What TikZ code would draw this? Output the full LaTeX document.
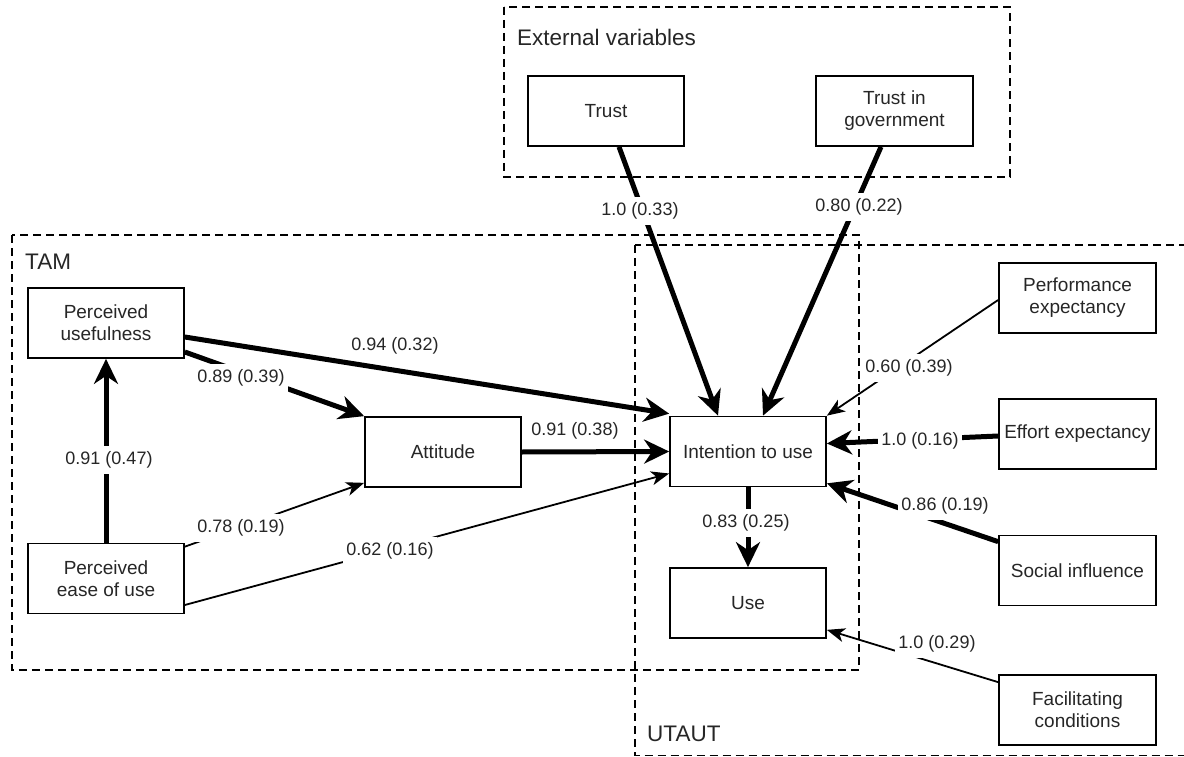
\documentclass[tikz,border=0pt]{standalone}
\usepackage{fontspec}
\setmainfont{Liberation Sans}
\usetikzlibrary{arrows.meta,calc}
\tikzset{
 box/.style={draw, line width=1.7pt, minimum width=156pt, minimum height=70pt, inner sep=2pt, align=center, font=\fontsize{19}{22}\selectfont, text=black!85},
 grp/.style={draw, dash pattern=on 8pt off 5pt, line width=1.6pt},
 ttl/.style={anchor=west, font=\fontsize{22.5}{26}\selectfont, text=black!85, inner sep=0pt},
 lbl/.style={fill=white, inner xsep=3pt, inner ysep=6pt, font=\fontsize{18}{20}\selectfont, text=black!85},
 thk/.style={line width=5pt, -{Stealth[length=25pt,width=24pt,inset=8pt]}},
 thn/.style={line width=1.8pt, -{Stealth[length=18pt,width=14pt,inset=5pt]}},
}
\begin{document}
\begin{tikzpicture}[x=1pt,y=-1pt]
\useasboundingbox (0,0) rectangle (1184,757);
\clip (0,0) rectangle (1184,757);
% groups
\draw[grp] (504,7) rectangle (1010,177);
\draw[grp] (12,235) rectangle (859,670);
\draw[grp] (635,245) rectangle (1200,755.5);
\node[ttl] (tExt) at (517,37) {External variables};
\node[ttl] (tTam) at (25,262) {TAM};
\node[ttl] (tUta) at (647,734) {UTAUT};
% boxes
\node[box] (trust) at (606,111) {Trust};
\node[box, minimum width=157pt] (tig) at (894.5,111) {Trust in\\government};
\node[box] (pu) at (106,323) {Perceived\\usefulness};
\node[box] (peou) at (106,578.5) {Perceived\\ease of use};
\node[box] (att) at (443,452) {Attitude};
\node[box] (int) at (748,451.5) {Intention to use};
\node[box] (use) at (748,603) {Use};
\node[box, minimum width=157pt] (pe) at (1077.5,298) {Performance\\expectancy};
\node[box, minimum width=157pt] (ee) at (1077.5,434) {Effort expectancy};
\node[box, minimum width=157pt] (si) at (1077.5,570.5) {Social influence};
\node[box, minimum width=157pt] (fc) at (1077.5,710) {Facilitating\\conditions};
% connectors
\draw[thk] ([xshift=13pt]trust.south) -- ([xshift=-30pt]int.north);
\draw[thk] ([xshift=-13.5pt]tig.south) -- ([xshift=15pt]int.north);
\draw[thk] ([yshift=-14pt]pu.east) -- ([yshift=2pt]int.north west);
\draw[thk] ([yshift=-29pt]pu.east) -- (att.north west);
\draw[thk] (peou.north) -- (pu.south);
\draw[thn] ([yshift=-4pt]peou.north east) -- ([yshift=5pt]att.south west);
\draw[thn] ([yshift=-26.5pt]peou.east) -- ([yshift=-22pt]int.west);
\draw[thk] (att.east) -- (int.west);
\draw[thk] (int.south) -- (use.north);
\draw[thn] ([yshift=-2pt]pe.west) -- (int.north east);
\draw[thk] ([yshift=-2pt]ee.west) -- ([yshift=8pt]int.east);
\draw[thk] ([yshift=-7pt]si.north west) -- ([yshift=4pt]int.south east);
\draw[thn] ([yshift=-8pt]fc.north west) -- ([yshift=9pt]use.south east);
% labels
\node[lbl] (l1) at (640,211) {1.0 (0.33)};
\node[lbl] (l2) at (859,207) {0.80 (0.22)};
\node[lbl] (l3) at (395,346) {0.94 (0.32)};
\node[lbl] (l4) at (241,378) {0.89 (0.39)};
\node[lbl] (l5) at (109,460) {0.91 (0.47)};
\node[lbl] (l6) at (241,528) {0.78 (0.19)};
\node[lbl] (l7) at (390,551) {0.62 (0.16)};
\node[lbl] (l8) at (575,431) {0.91 (0.38)};
\node[lbl] (l9) at (746,523) {0.83 (0.25)};
\node[lbl] (l10) at (909,368) {0.60 (0.39)};
\node[lbl] (l11) at (920,441) {1.0 (0.16)};
\node[lbl] (l12) at (945,506) {0.86 (0.19)};
\node[lbl] (l13) at (937,644) {1.0 (0.29)};
\end{tikzpicture}
\end{document}
